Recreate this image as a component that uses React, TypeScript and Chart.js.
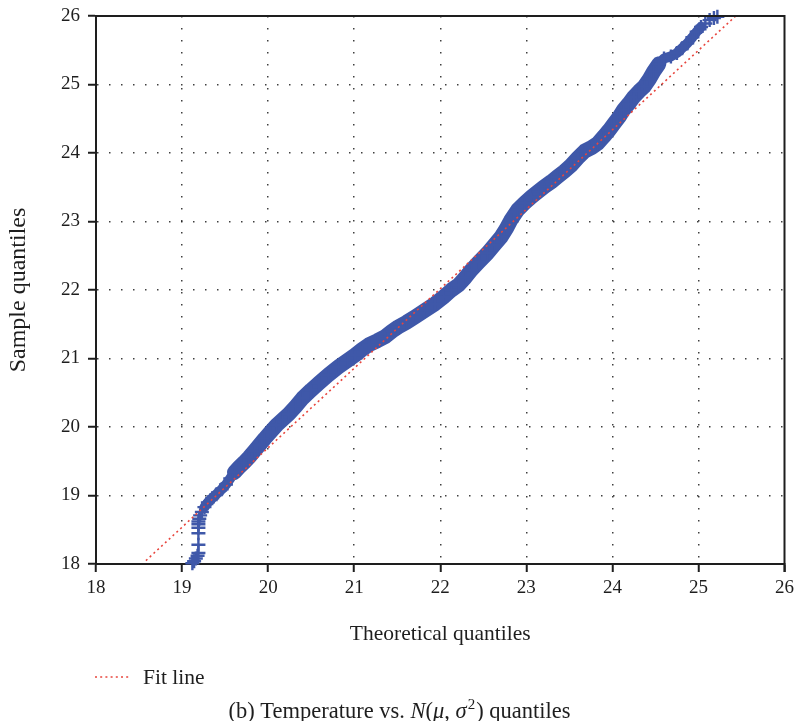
import React, { useEffect, useRef } from 'react';
import { Chart, registerables } from 'chart.js';

Chart.register(...registerables);

// Theoretical quantiles (x) and sample quantiles (y)
const sampleX = [
  19.12, 19.14, 19.16, 19.18, 19.19, 19.19, 19.19, 19.19, 19.19, 19.19,
  19.20, 19.21, 19.23, 19.26, 19.30, 19.35, 19.40, 19.46, 19.51, 19.56,
  19.61, 19.66, 19.72, 19.78, 19.84, 19.90, 19.96, 20.03, 20.10, 20.17,
  20.24, 20.32, 20.40, 20.50, 20.59, 20.70, 20.82, 20.92, 21.01, 21.09,
  21.17, 21.27, 21.36, 21.44, 21.51, 21.61, 21.71, 21.82, 21.94, 22.04,
  22.13, 22.21, 22.29, 22.36, 22.45, 22.55, 22.63, 22.71, 22.77, 22.82,
  22.90, 22.98, 23.06, 23.14, 23.21, 23.29, 23.36, 23.44, 23.52, 23.60,
  23.68, 23.76, 23.83, 23.90, 23.96, 24.02, 24.08, 24.13, 24.19, 24.25,
  24.31, 24.37, 24.43, 24.48, 24.54, 24.60, 24.68, 24.75, 24.81, 24.87,
  24.93, 24.98, 25.03, 25.08, 25.13, 25.18, 25.22,
];
const sampleY = [
  18.01, 18.04, 18.08, 18.12, 18.16, 18.28, 18.45, 18.53, 18.58, 18.62,
  18.66, 18.71, 18.76, 18.83, 18.90, 18.96, 19.02, 19.09, 19.16, 19.25,
  19.34, 19.41, 19.48, 19.56, 19.65, 19.74, 19.83, 19.93, 20.03, 20.11,
  20.19, 20.30, 20.42, 20.54, 20.64, 20.76, 20.88, 20.97, 21.05, 21.13,
  21.20, 21.26, 21.32, 21.40, 21.46, 21.53, 21.61, 21.70, 21.80, 21.90,
  22.00, 22.07, 22.18, 22.29, 22.41, 22.54, 22.66, 22.78, 22.90, 23.02,
  23.17, 23.27, 23.36, 23.44, 23.51, 23.58, 23.65, 23.73, 23.82, 23.93,
  24.03, 24.08, 24.14, 24.24, 24.33, 24.43, 24.53, 24.63, 24.72, 24.82,
  24.90, 24.97, 25.08, 25.19, 25.30, 25.38, 25.41, 25.46, 25.53, 25.60,
  25.69, 25.77, 25.84, 25.89, 25.94, 25.97, 25.99,
];

// Fit line end points
const fitX = [18.58, 25.45];
const fitY = [18.05, 26.02];

const axisMin = 18;
const axisMax = 26;
const xTitle = 'Theoretical quantiles';
const yTitle = 'Sample quantiles';
const legendLabel = 'Fit line';
const captionParts: [string, string][] = [
  ['(b) Temperature vs. ', 'normal'],
  ['N', 'italic'],
  ['(', 'normal'],
  ['μ', 'italic'],
  [', ', 'normal'],
  ['σ', 'italic'],
  ['2', 'sup'],
  [') quantiles', 'normal'],
];

const BLUE = '#3f58a9';
const RED = '#e8453d';
const INK = '#1e1e1e';
const FONT = '"Liberation Serif", "DejaVu Serif", serif';
const TITLE_SIZE = 21.5;
const YTITLE_SIZE = 24;
const CAPTION_SIZE = 22.5;
const TICK_SIZE = 19;

const decorPlugin = {
  id: 'decor',
  afterDraw(chart: any) {
    const { ctx, chartArea: a, width } = chart;
    ctx.save();
    // top and right frame
    ctx.strokeStyle = INK;
    ctx.lineWidth = 2;
    ctx.beginPath();
    ctx.moveTo(a.left - 1, a.top);
    ctx.lineTo(a.right, a.top);
    ctx.lineTo(a.right, a.bottom + 8);
    ctx.stroke();

    // legend
    const ly = a.bottom + 113;
    ctx.strokeStyle = RED;
    ctx.lineWidth = 1.6;
    ctx.setLineDash([2, 3.2]);
    ctx.beginPath();
    ctx.moveTo(a.left - 1, ly);
    ctx.lineTo(a.left + 33, ly);
    ctx.stroke();
    ctx.setLineDash([]);
    ctx.fillStyle = INK;
    ctx.font = `${TITLE_SIZE}px ${FONT}`;
    ctx.textBaseline = 'middle';
    ctx.textAlign = 'left';
    ctx.fillText(legendLabel, a.left + 47, ly + 1);

    // caption
    const cy = a.bottom + 147;
    const fontFor = (style: string) =>
      style === 'italic'
        ? `italic ${CAPTION_SIZE}px ${FONT}`
        : style === 'sup'
        ? `${Math.round(CAPTION_SIZE * 0.65)}px ${FONT}`
        : `${CAPTION_SIZE}px ${FONT}`;
    const gap = (s: string) => (s === 'sup' ? 2 : 0);
    let total = 0;
    for (const [t, s] of captionParts) {
      ctx.font = fontFor(s);
      total += ctx.measureText(t).width + gap(s);
    }
    let x = width / 2 - total / 2;
    for (const [t, s] of captionParts) {
      ctx.font = fontFor(s);
      ctx.textBaseline = 'alphabetic';
      const y = s === 'sup' ? cy + 7 - 9 : cy + 7;
      ctx.fillText(t, x + (s === 'sup' ? 1 : 0), y);
      x += ctx.measureText(t).width + gap(s);
    }
    ctx.restore();
  },
};

export default function App() {
  const canvasRef = useRef<HTMLCanvasElement | null>(null);

  useEffect(() => {
    const canvas = canvasRef.current;
    if (!canvas) return;
    const sampleData = sampleX.map((x, i) => ({ x, y: sampleY[i] }));
    const fitData = fitX.map((x, i) => ({ x, y: fitY[i] }));

    const bandWidth = (xv: number) => {
      if (xv < 19.26 || xv > 25.0) return 0;
      if (xv < 19.6 || xv > 24.5) return 10;
      return 15;
    };

    const gridColor = (c: any) =>
      c.tick && (c.tick.value === axisMin || c.tick.value === axisMax)
        ? 'rgba(0,0,0,0)'
        : 'rgba(0,0,0,0.75)';

    const chart = new Chart(canvas, {
      type: 'scatter',
      data: {
        datasets: [
          {
            label: legendLabel,
            data: fitData,
            showLine: true,
            borderColor: RED,
            borderWidth: 1.6,
            borderDash: [2, 3.2],
            pointRadius: 0,
            fill: false,
          },
          {
            label: 'Sample',
            data: sampleData,
            showLine: true,
            borderColor: BLUE,
            backgroundColor: BLUE,
            borderWidth: 15,
            borderJoinStyle: 'round',
            borderCapStyle: 'round',
            pointStyle: 'cross',
            pointRadius: 7,
            pointBorderWidth: 2.4,
            pointBorderColor: BLUE,
            clip: false as any,
            segment: {
              borderWidth: (c: any) => bandWidth(c.p0.parsed.x) || 1,
              borderColor: (c: any) =>
                bandWidth(c.p0.parsed.x) ? BLUE : 'rgba(0,0,0,0)',
            },
          } as any,
        ],
      },
      options: {
        animation: false,
        responsive: false,
        maintainAspectRatio: false,
        layout: { padding: { left: 0, right: 11, top: 16, bottom: 0 } },
        plugins: {
          legend: { display: false },
          tooltip: { enabled: false },
          title: { display: false },
        },
        scales: {
          x: {
            type: 'linear',
            min: axisMin,
            max: axisMax,
            afterFit: (s: any) => {
              s.height = 157;
            },
            ticks: {
              stepSize: 1,
              color: INK,
              padding: 5,
              font: { family: FONT, size: TICK_SIZE },
            },
            grid: {
              color: gridColor,
              lineWidth: 1.5,
              tickLength: 8,
              tickColor: INK,
              tickWidth: 2,
            },
            border: { display: true, color: INK, width: 2, dash: [1.5, 10.5] },
            title: {
              display: true,
              text: xTitle,
              color: INK,
              font: { family: FONT, size: TITLE_SIZE },
              padding: { top: 0, bottom: 74 },
            },
          },
          y: {
            type: 'linear',
            min: axisMin,
            max: axisMax,
            afterFit: (s: any) => {
              s.width = 96;
              s.paddingTop = 0;
              s.paddingBottom = 0;
            },
            ticks: {
              stepSize: 1,
              color: INK,
              padding: 8,
              font: { family: FONT, size: TICK_SIZE },
            },
            grid: {
              color: gridColor,
              lineWidth: 1.5,
              tickLength: 8,
              tickColor: INK,
              tickWidth: 2,
            },
            border: { display: true, color: INK, width: 2, dash: [1.5, 10.5] },
            title: {
              display: true,
              text: yTitle,
              color: INK,
              font: { family: FONT, size: YTITLE_SIZE },
              padding: { top: 4, bottom: 0 },
            },
          },
        },
      },
      plugins: [decorPlugin],
    });
    return () => chart.destroy();
  }, []);

  return (
    <div style={{ position: 'absolute', left: 0, top: 0, width: '799px', height: '721px', background: '#fff' }}>
      <canvas ref={canvasRef} width={799} height={721} style={{ display: 'block' }} />
    </div>
  );
}
